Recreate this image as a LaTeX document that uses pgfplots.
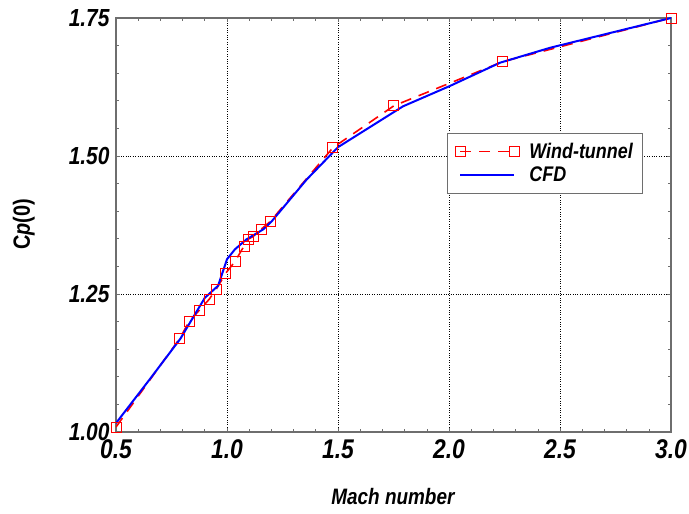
\documentclass[border=0pt]{standalone}
\usepackage{fontspec}
\setmainfont{Liberation Sans}
\usepackage{pgfplots}
\pgfplotsset{compat=1.18}

\definecolor{framegray}{RGB}{110,110,110}
\definecolor{wtred}{RGB}{255,0,0}
\definecolor{cfdblue}{RGB}{0,0,255}

\newcommand{\tallbox}[1]{\scalebox{1}[1.18]{#1}}

\begin{document}
\begin{tikzpicture}
\begin{axis}[
    scale only axis,
    width=555bp, height=414bp,
    xmin=0.5, xmax=3.0,
    ymin=1.0, ymax=1.75,
    xtick={0.5,1.0,1.5,2.0,2.5,3.0},
    ytick={1.00,1.25,1.50,1.75},
    minor x tick num=4,
    minor y tick num=4,
    tick align=inside,
    major tick length=4bp,
    minor tick length=3bp,
    every tick/.style={framegray, line width=0.6bp},
    axis line style={framegray, line width=1.6bp},
    grid=major,
    major grid style={black, dotted, line width=0.6bp},
    /pgf/number format/assume math mode=true,
    xticklabel={\tallbox{\pgfmathprintnumber[fixed, fixed zerofill, precision=1]{\tick}}},
    yticklabel={\tallbox{\pgfmathprintnumber[fixed, fixed zerofill, precision=2]{\tick}}},
    xticklabel style={font=\bfseries\itshape\fontsize{23}{23}\selectfont, yshift=-4bp},
    yticklabel style={font=\bfseries\itshape\fontsize{21}{21}\selectfont, xshift=-3bp},
    xlabel={\tallbox{Mach number}},
    ylabel={\tallbox{C\textit{p}(0)}},
    xlabel style={font=\bfseries\itshape\fontsize{19}{19}\selectfont,
        at={(axis description cs:0.499,-0.157)}, anchor=center},
    ylabel style={font=\bfseries\fontsize{20}{20}\selectfont,
        at={(axis description cs:-0.166,0.502)}, anchor=center},
    legend style={at={(rel axis cs:0.596,0.723)}, anchor=north west,
        draw=framegray, line width=1.2bp, fill=white,
        font=\bfseries\itshape\fontsize{18}{18}\selectfont,
        inner xsep=8bp, inner ysep=8bp, row sep=3bp},
    legend cell align=left,
    legend image code/.code={
        \path (-2bp,0bp) (66bp,0bp);
        \draw[mark repeat=2, mark phase=1, #1] plot coordinates {(0bp,0bp) (27bp,0bp) (54bp,0bp)};
    },
]
\addplot[wtred, line width=1.6bp, dash pattern=on 11bp off 8bp,
    mark=square, mark size=5bp,
    mark options={solid, line width=0.9bp, wtred}]
coordinates {
    (0.500,1.009) (0.788,1.170) (0.829,1.200) (0.874,1.220) (0.919,1.240)
    (0.952,1.259) (0.995,1.288) (1.036,1.309) (1.077,1.337) (1.095,1.349)
    (1.117,1.354) (1.153,1.367) (1.194,1.381) (1.477,1.515) (1.752,1.591)
    (2.243,1.671) (3.000,1.750)
};
\addlegendentry{\tallbox{Wind-tunnel}}
\addplot[cfdblue, line width=2bp]
coordinates {
    (0.500,1.016) (0.653,1.096) (0.790,1.169) (0.900,1.243) (0.960,1.265)
    (0.975,1.283) (1.000,1.313) (1.036,1.331) (1.088,1.349) (1.163,1.367)
    (1.200,1.381) (1.358,1.457) (1.500,1.516) (1.793,1.590) (2.005,1.627)
    (2.230,1.669) (2.455,1.696) (3.000,1.750)
};
\addlegendentry{\tallbox{CFD}}
\end{axis}
\pgfresetboundingbox
\path ([xshift=-116bp,yshift=-82bp]current axis.south west)
    rectangle ([xshift=18bp,yshift=18bp]current axis.north east);
\end{tikzpicture}
\end{document}
